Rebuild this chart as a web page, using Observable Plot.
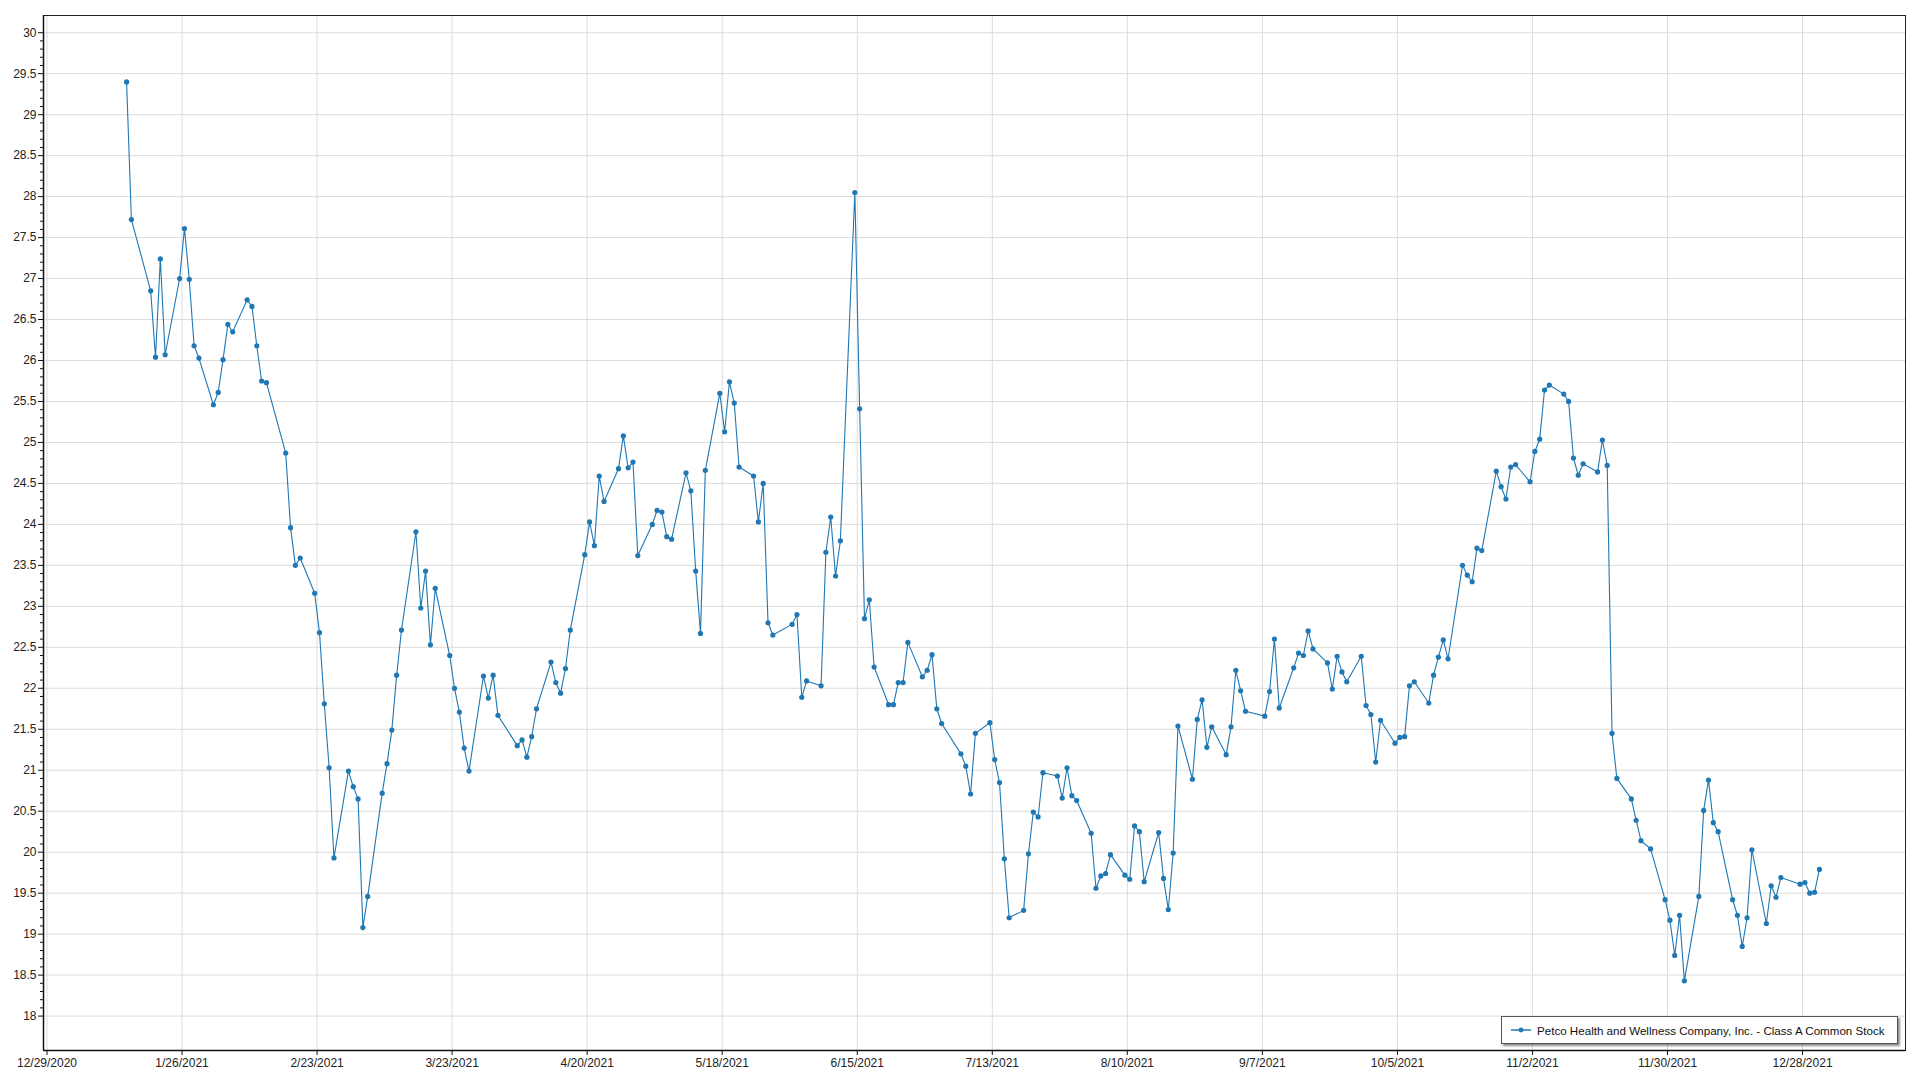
<!DOCTYPE html>
<html>
<head>
<meta charset="utf-8">
<script src="https://cdn.jsdelivr.net/npm/d3@7"></script>
<script src="https://cdn.jsdelivr.net/npm/@observablehq/plot@0.6"></script>
<style>
  html, body { margin: 0; padding: 0; background: #fff; }
  #wrap { position: relative; width: 1920px; height: 1080px; overflow: hidden; }
  #wrap svg { position: absolute; left: 0; top: 0; }
  #legend {
    position: absolute; left: 1501px; top: 1016px; width: 397px; height: 28px;
    border: 1px solid #555; background: #fff; box-shadow: 2px 2px 2px rgba(0,0,0,0.45);
    font-family: "Liberation Sans", Arial, sans-serif; font-size: 11.6px; color: #111;
    display: flex; align-items: center; box-sizing: border-box; padding-left: 9px;
    white-space: nowrap;
  }
  #legend svg { position: static; margin-right: 6px; }
</style>
</head>
<body>
<div id="wrap"></div>
<script>
const seriesName = "Petco Health and Wellness Company, Inc. - Class A Common Stock";

const tradeDates = [
 "2021-01-14","2021-01-15","2021-01-19","2021-01-20","2021-01-21","2021-01-22","2021-01-25","2021-01-26","2021-01-27","2021-01-28","2021-01-29",
 "2021-02-01","2021-02-02","2021-02-03","2021-02-04","2021-02-05","2021-02-08","2021-02-09","2021-02-10","2021-02-11","2021-02-12","2021-02-16","2021-02-17","2021-02-18","2021-02-19","2021-02-22","2021-02-23","2021-02-24","2021-02-25","2021-02-26",
 "2021-03-01","2021-03-02","2021-03-03","2021-03-04","2021-03-05","2021-03-08","2021-03-09","2021-03-10","2021-03-11","2021-03-12","2021-03-15","2021-03-16","2021-03-17","2021-03-18","2021-03-19","2021-03-22","2021-03-23","2021-03-24","2021-03-25","2021-03-26","2021-03-29","2021-03-30","2021-03-31",
 "2021-04-01","2021-04-05","2021-04-06","2021-04-07","2021-04-08","2021-04-09","2021-04-12","2021-04-13","2021-04-14","2021-04-15","2021-04-16","2021-04-19","2021-04-20","2021-04-21","2021-04-22","2021-04-23","2021-04-26","2021-04-27","2021-04-28","2021-04-29","2021-04-30",
 "2021-05-03","2021-05-04","2021-05-05","2021-05-06","2021-05-07","2021-05-10","2021-05-11","2021-05-12","2021-05-13","2021-05-14","2021-05-17","2021-05-18","2021-05-19","2021-05-20","2021-05-21","2021-05-24","2021-05-25","2021-05-26","2021-05-27","2021-05-28",
 "2021-06-01","2021-06-02","2021-06-03","2021-06-04","2021-06-07","2021-06-08","2021-06-09","2021-06-10","2021-06-11","2021-06-14","2021-06-15","2021-06-16","2021-06-17","2021-06-18","2021-06-21","2021-06-22","2021-06-23","2021-06-24","2021-06-25","2021-06-28","2021-06-29","2021-06-30",
 "2021-07-01","2021-07-02","2021-07-06","2021-07-07","2021-07-08","2021-07-09","2021-07-12","2021-07-13","2021-07-14","2021-07-15","2021-07-16","2021-07-19","2021-07-20","2021-07-21","2021-07-22","2021-07-23","2021-07-26","2021-07-27","2021-07-28","2021-07-29","2021-07-30",
 "2021-08-02","2021-08-03","2021-08-04","2021-08-05","2021-08-06","2021-08-09","2021-08-10","2021-08-11","2021-08-12","2021-08-13","2021-08-16","2021-08-17","2021-08-18","2021-08-19","2021-08-20","2021-08-23","2021-08-24","2021-08-25","2021-08-26","2021-08-27","2021-08-30","2021-08-31",
 "2021-09-01","2021-09-02","2021-09-03","2021-09-07","2021-09-08","2021-09-09","2021-09-10","2021-09-13","2021-09-14","2021-09-15","2021-09-16","2021-09-17","2021-09-20","2021-09-21","2021-09-22","2021-09-23","2021-09-24","2021-09-27","2021-09-28","2021-09-29","2021-09-30",
 "2021-10-01","2021-10-04","2021-10-05","2021-10-06","2021-10-07","2021-10-08","2021-10-11","2021-10-12","2021-10-13","2021-10-14","2021-10-15","2021-10-18","2021-10-19","2021-10-20","2021-10-21","2021-10-22","2021-10-25","2021-10-26","2021-10-27","2021-10-28","2021-10-29",
 "2021-11-01","2021-11-02","2021-11-03","2021-11-04","2021-11-05","2021-11-08","2021-11-09","2021-11-10","2021-11-11","2021-11-12","2021-11-15","2021-11-16","2021-11-17","2021-11-18","2021-11-19","2021-11-22","2021-11-23","2021-11-24","2021-11-26","2021-11-29","2021-11-30",
 "2021-12-01","2021-12-02","2021-12-03","2021-12-06","2021-12-07","2021-12-08","2021-12-09","2021-12-10","2021-12-13","2021-12-14","2021-12-15","2021-12-16","2021-12-17","2021-12-20","2021-12-21","2021-12-22","2021-12-23","2021-12-27","2021-12-28","2021-12-29","2021-12-30","2021-12-31"
];

const closes = [
 29.40,27.72,26.85,26.04,27.24,26.07,27.00,27.61,26.99,26.18,26.03,
 25.46,25.61,26.01,26.44,26.35,26.74,26.66,26.18,25.75,25.73,24.87,23.96,23.50,23.59,23.16,22.68,21.81,21.03,19.93,
 20.99,20.80,20.65,19.08,19.46,20.72,21.08,21.49,22.16,22.71,23.91,22.98,23.43,22.53,23.22,22.40,22.00,21.71,21.27,20.99,22.15,21.88,22.16,
 21.67,21.30,21.37,21.16,21.41,21.75,22.32,22.07,21.94,22.24,22.71,23.63,24.03,23.74,24.59,24.28,24.68,25.08,24.69,24.76,23.62,
 24.00,24.17,24.15,23.85,23.82,24.63,24.41,23.43,22.67,24.66,25.60,25.13,25.74,25.48,24.70,24.59,24.03,24.50,22.80,22.65,
 22.78,22.90,21.89,22.09,22.03,23.66,24.09,23.37,23.80,28.05,25.41,22.85,23.08,22.26,21.80,21.80,22.07,22.07,22.56,22.14,22.22,22.41,
 21.75,21.57,21.20,21.05,20.71,21.45,21.58,21.13,20.85,19.92,19.20,19.29,19.98,20.49,20.43,20.97,20.93,20.66,21.03,20.69,20.63,
 20.23,19.56,19.71,19.74,19.97,19.72,19.67,20.32,20.25,19.64,20.24,19.68,19.30,19.99,21.54,20.89,21.62,21.86,21.28,21.53,21.19,21.53,
 22.22,21.97,21.72,21.66,21.96,22.60,21.76,22.25,22.43,22.40,22.70,22.48,22.31,21.99,22.39,22.20,22.08,22.39,21.79,21.68,21.10,
 21.61,21.33,21.40,21.41,22.03,22.08,21.82,22.16,22.38,22.59,22.36,23.50,23.38,23.30,23.71,23.68,24.65,24.46,24.31,24.70,24.73,
 24.52,24.89,25.04,25.64,25.70,25.59,25.50,24.81,24.60,24.74,24.64,25.03,24.72,21.45,20.90,20.65,20.39,20.14,20.04,19.42,19.17,
 18.74,19.23,18.43,19.46,20.51,20.88,20.36,20.25,19.42,19.23,18.85,19.20,20.03,19.13,19.59,19.45,19.69,19.61,19.63,19.50,19.51,19.79
];

const xTickDates = ["2020-12-29","2021-01-26","2021-02-23","2021-03-23","2021-04-20","2021-05-18","2021-06-15","2021-07-13","2021-08-10","2021-09-07","2021-10-05","2021-11-02","2021-11-30","2021-12-28"];
const yTickValues = [18,18.5,19,19.5,20,20.5,21,21.5,22,22.5,23,23.5,24,24.5,25,25.5,26,26.5,27,27.5,28,28.5,29,29.5,30];

const data = tradeDates.map((d, i) => ({date: new Date(d + "T12:00:00Z"), close: closes[i]}));
const xTicks = xTickDates.map(d => new Date(d + "T00:00:00Z"));
const yMinor = d3.range(180, 301).map(v => v / 10).filter(v => Math.round(v * 10) % 5 !== 0);
const fmtDate = d3.utcFormat("%-m/%-d/%Y");
const xDomain = [new Date("2020-12-28T06:36:00Z"), new Date("2022-01-18T08:24:00Z")];
const yDomain = [17.58, 30.21];
const blue = "#1f77b4";

const chart = Plot.plot({
  width: 1920,
  height: 1080,
  marginLeft: 43,
  marginTop: 15,
  marginRight: 15,
  marginBottom: 30,
  style: {fontFamily: "Liberation Sans, Arial, sans-serif", fontSize: "12px", color: "#222", background: "#fff"},
  x: {type: "utc", domain: xDomain},
  y: {domain: yDomain},
  marks: [
    Plot.gridX(xTicks, {stroke: "#dcdcdc", strokeOpacity: 1}),
    Plot.gridY(yTickValues, {stroke: "#dcdcdc", strokeOpacity: 1}),
    Plot.frame({stroke: "#222", strokeWidth: 1}),
    Plot.ruleX([xDomain[0]], {stroke: "#111", strokeWidth: 1.5}),
    Plot.ruleY([yDomain[0]], {stroke: "#111", strokeWidth: 1.5}),
    Plot.line(data, {x: "date", y: "close", stroke: blue, strokeWidth: 1.1}),
    Plot.dot(data, {x: "date", y: "close", r: 2.6, fill: blue, stroke: "none"}),
    Plot.axisX(xTicks, {tickFormat: fmtDate, tickSize: 5, tickPadding: 3, label: null, fontSize: 12, stroke: "#111"}),
    Plot.axisY(yTickValues, {tickFormat: d => String(d), tickSize: 5, tickPadding: 2, label: null, fontSize: 12, stroke: "#111"}),
    Plot.axisY(yMinor, {tickFormat: () => "", tickSize: 3, label: null, stroke: "#111"})
  ]
});

const wrap = document.getElementById("wrap");
wrap.appendChild(chart);

const legend = document.createElement("div");
legend.id = "legend";
legend.innerHTML = `<svg width="20" height="8"><line x1="0" y1="4" x2="20" y2="4" stroke="${blue}" stroke-width="1.5"/><circle cx="10" cy="4" r="2.4" fill="${blue}"/></svg><span></span>`;
legend.querySelector("span").textContent = seriesName;
wrap.appendChild(legend);
</script>
</body>
</html>
